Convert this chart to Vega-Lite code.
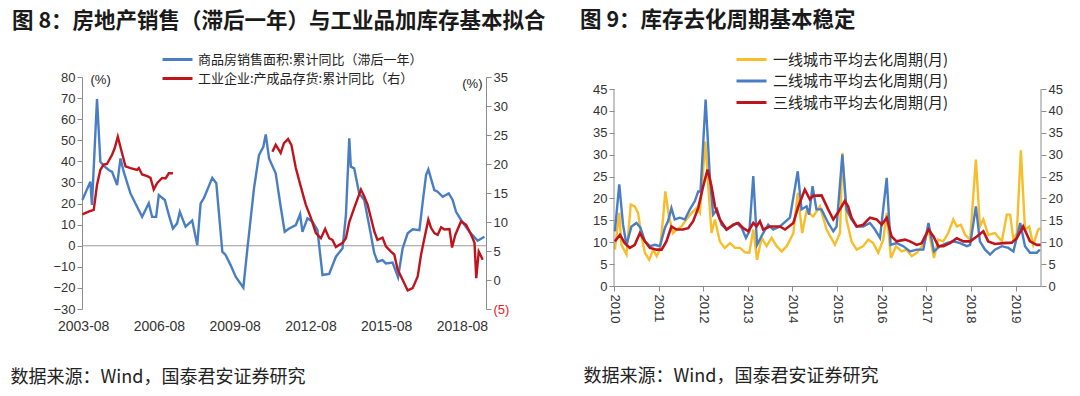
{
  "$schema": "https://vega.github.io/schema/vega-lite/v6.json",
  "background": "white",
  "padding": {"left": 10, "top": 9, "right": 5, "bottom": 5},
  "bounds": "flush",
  "spacing": 128,
  "datasets": {
    "sales": [
      {"d":"2003-07-20","v":21.7},{"d":"2003-11-13","v":30.4},{"d":"2003-12-06","v":19.3},{"d":"2004-02-17","v":69.6},
      {"d":"2004-04-06","v":39.8},{"d":"2004-05-23","v":38},{"d":"2004-08-05","v":35.9},{"d":"2004-09-22","v":35},
      {"d":"2004-12-04","v":28.8},{"d":"2005-01-22","v":41.4},{"d":"2005-03-10","v":35},{"d":"2005-06-15","v":24.8},
      {"d":"2005-09-19","v":18.5},{"d":"2005-12-01","v":13.7},{"d":"2006-03-07","v":20.1},{"d":"2006-04-24","v":13.7},
      {"d":"2006-06-21","v":13.7},{"d":"2006-07-30","v":24},{"d":"2006-10-25","v":21.7},{"d":"2006-12-22","v":14.6},
      {"d":"2007-02-19","v":8.2},{"d":"2007-04-21","v":10.6},{"d":"2007-05-30","v":16.1},{"d":"2007-08-21","v":9.0},
      {"d":"2007-11-25","v":11.9},{"d":"2008-02-06","v":0.3},{"d":"2008-03-26","v":20.1},{"d":"2008-05-12","v":22.5},
      {"d":"2008-09-10","v":32.2},{"d":"2008-11-08","v":29.6},{"d":"2009-02-03","v":-2.8},{"d":"2009-03-22","v":-4.4},
      {"d":"2009-06-03","v":-9.2},{"d":"2009-08-15","v":-14.7},{"d":"2009-12-04","v":-19.9},{"d":"2010-02-01","v":-1.2},
      {"d":"2010-05-07","v":27.2},{"d":"2010-07-18","v":43},{"d":"2010-09-19","v":46.9},{"d":"2010-10-24","v":52.8},
      {"d":"2010-12-11","v":41.4},{"d":"2011-03-17","v":34.3},{"d":"2011-05-28","v":18.5},{"d":"2011-07-25","v":6.6},
      {"d":"2011-09-27","v":8.2},{"d":"2012-01-02","v":9.8},{"d":"2012-03-04","v":14.9},{"d":"2012-04-07","v":6.6},
      {"d":"2012-06-18","v":13},{"d":"2012-08-30","v":11.4},{"d":"2012-11-10","v":7.4},{"d":"2013-01-22","v":-13.9},
      {"d":"2013-04-28","v":-13.4},{"d":"2013-08-04","v":-5.2},{"d":"2013-11-08","v":-1.2},{"d":"2013-12-27","v":14.6},
      {"d":"2014-02-13","v":50.9},{"d":"2014-03-08","v":37.5},{"d":"2014-04-25","v":36.7},{"d":"2014-07-07","v":24.8},
      {"d":"2014-09-18","v":21.7},{"d":"2014-12-01","v":9.0},{"d":"2015-02-10","v":-3.5},{"d":"2015-03-28","v":-7.6},
      {"d":"2015-06-09","v":-6.8},{"d":"2015-07-28","v":-8.4},{"d":"2015-11-02","v":-8.0},{"d":"2016-01-20","v":-15},
      {"d":"2016-03-26","v":-1.2},{"d":"2016-06-07","v":5.9},{"d":"2016-08-18","v":7.8},{"d":"2016-11-24","v":7.4},
      {"d":"2017-01-11","v":20.9},{"d":"2017-02-28","v":33.5},{"d":"2017-04-02","v":36.2},{"d":"2017-06-28","v":26.4},
      {"d":"2017-08-15","v":25.6},{"d":"2017-10-27","v":23.2},{"d":"2018-01-22","v":24.8},{"d":"2018-03-19","v":21.7},
      {"d":"2018-05-08","v":16.1},{"d":"2018-07-19","v":12.2},{"d":"2018-11-17","v":6.6},{"d":"2019-03-16","v":2.4},
      {"d":"2019-06-22","v":4.3}
    ],
    "inv": [
      {"d":"2003-07-20","v":11.3,"g":1},{"d":"2003-10-19","v":11.8,"g":1},{"d":"2004-01-01","v":12.1,"g":1},{"d":"2004-02-17","v":16.4,"g":1},
      {"d":"2004-04-06","v":19.0,"g":1},{"d":"2004-05-23","v":19.9,"g":1},{"d":"2004-07-10","v":20.0,"g":1},{"d":"2004-09-22","v":21.6,"g":1},
      {"d":"2004-11-01","v":22.8,"g":1},{"d":"2004-12-14","v":24.7,"g":1},{"d":"2005-02-06","v":22.2,"g":1},{"d":"2005-04-04","v":19.6,"g":1},
      {"d":"2005-06-15","v":19.3,"g":1},{"d":"2005-09-19","v":19.0,"g":1},{"d":"2005-10-14","v":19.3,"g":1},{"d":"2005-12-01","v":18.2,"g":1},
      {"d":"2006-02-12","v":17.9,"g":1},{"d":"2006-04-01","v":17.6,"g":1},{"d":"2006-05-18","v":15.6,"g":1},{"d":"2006-07-05","v":16.7,"g":1},
      {"d":"2006-09-16","v":17.6,"g":1},{"d":"2006-11-05","v":17.5,"g":1},{"d":"2006-12-22","v":18.4,"g":1},{"d":"2007-02-19","v":18.4,"g":1},
      {"d":"2011-01-28","v":22.1,"g":2},{"d":"2011-03-17","v":23.3,"g":2},{"d":"2011-05-28","v":21.9,"g":2},{"d":"2011-07-15","v":23.6,"g":2},
      {"d":"2011-09-12","v":24.3,"g":2},{"d":"2011-10-30","v":23.3,"g":2},{"d":"2012-01-02","v":19.3,"g":2},{"d":"2012-03-14","v":16.1,"g":2},
      {"d":"2012-05-25","v":13.0,"g":2},{"d":"2012-08-07","v":10.7,"g":2},{"d":"2012-10-18","v":8.1,"g":2},{"d":"2012-12-30","v":7.2,"g":2},
      {"d":"2013-03-01","v":8.8,"g":2},{"d":"2013-04-28","v":7.2,"g":2},{"d":"2013-06-15","v":6.9,"g":2},{"d":"2013-08-04","v":5.7,"g":2},
      {"d":"2013-11-08","v":6.4,"g":2},{"d":"2013-12-27","v":7.2,"g":2},{"d":"2014-02-13","v":10.0,"g":2},{"d":"2014-04-25","v":12.4,"g":2},
      {"d":"2014-08-01","v":15.6,"g":2},{"d":"2014-09-18","v":14.4,"g":2},{"d":"2014-11-05","v":13.0,"g":2},{"d":"2014-12-24","v":10.7,"g":2},
      {"d":"2015-02-10","v":8.4,"g":2},{"d":"2015-03-28","v":6.9,"g":2},{"d":"2015-06-09","v":7.3,"g":2},{"d":"2015-07-28","v":5.8,"g":2},
      {"d":"2015-10-09","v":4.9,"g":2},{"d":"2015-11-26","v":4.4,"g":2},{"d":"2016-01-14","v":1.8,"g":2},{"d":"2016-03-26","v":0.05,"g":2},
      {"d":"2016-06-07","v":-1.8,"g":2},{"d":"2016-08-18","v":-1.4,"g":2},{"d":"2016-10-30","v":0.6,"g":2},{"d":"2016-12-18","v":4.4,"g":2},
      {"d":"2017-02-04","v":7.2,"g":2},{"d":"2017-04-02","v":10.4,"g":2},{"d":"2017-05-11","v":9.0,"g":2},{"d":"2017-06-28","v":8.1,"g":2},
      {"d":"2017-08-15","v":7.8,"g":2},{"d":"2017-10-04","v":9.1,"g":2},{"d":"2017-11-21","v":8.7,"g":2},{"d":"2018-02-02","v":8.8,"g":2},
      {"d":"2018-03-11","v":5.6,"g":2},{"d":"2018-04-28","v":7.8,"g":2},{"d":"2018-07-19","v":10.1,"g":2},{"d":"2018-10-01","v":9.5,"g":2},
      {"d":"2018-12-12","v":7.8,"g":2},{"d":"2019-01-30","v":6.4,"g":2},{"d":"2019-02-24","v":0.3,"g":2},{"d":"2019-04-01","v":4.9,"g":2},
      {"d":"2019-05-05","v":4.1,"g":2},{"d":"2019-05-28","v":3.5,"g":2}
    ],
    "t1": [
      {"d":"2010-01-08","v":8.3},{"d":"2010-02-13","v":16.7},{"d":"2010-03-03","v":9.4},{"d":"2010-04-13","v":7.2},
      {"d":"2010-05-18","v":18.6},{"d":"2010-06-20","v":18.2},{"d":"2010-07-17","v":16.7},{"d":"2010-08-14","v":11.3},
      {"d":"2010-09-11","v":7.6},{"d":"2010-10-16","v":6.0},{"d":"2010-11-18","v":8.3},{"d":"2010-12-16","v":6.8},
      {"d":"2011-01-12","v":8.3},{"d":"2011-02-08","v":15.9},{"d":"2011-02-25","v":21.6},{"d":"2011-03-27","v":15.9},
      {"d":"2011-04-29","v":12.1},{"d":"2011-05-27","v":12.9},{"d":"2011-07-07","v":13.6},{"d":"2011-08-17","v":15.2},
      {"d":"2011-09-28","v":16.7},{"d":"2011-11-08","v":17.8},{"d":"2011-12-05","v":16.7},{"d":"2012-01-18","v":33},
      {"d":"2012-03-09","v":12.1},{"d":"2012-04-06","v":15.2},{"d":"2012-05-16","v":10.2},{"d":"2012-06-26","v":8.7},
      {"d":"2012-08-07","v":9.8},{"d":"2012-09-17","v":8.7},{"d":"2012-10-28","v":8.7},{"d":"2012-12-08","v":7.7},
      {"d":"2013-01-13","v":7.6},{"d":"2013-02-14","v":12.9},{"d":"2013-03-17","v":6.0},{"d":"2013-04-23","v":11.0},
      {"d":"2013-06-03","v":9.1},{"d":"2013-07-14","v":11.0},{"d":"2013-08-24","v":9.1},{"d":"2013-10-04","v":7.9},
      {"d":"2013-11-15","v":9.1},{"d":"2014-01-08","v":12.1},{"d":"2014-02-13","v":21.3},{"d":"2014-03-21","v":12.1},
      {"d":"2014-04-26","v":17.1},{"d":"2014-06-19","v":15.9},{"d":"2014-08-13","v":18.2},{"d":"2014-10-07","v":12.9},
      {"d":"2014-12-14","v":9.4},{"d":"2015-01-25","v":12.1},{"d":"2015-02-13","v":30.4},{"d":"2015-03-19","v":15.2},
      {"d":"2015-04-29","v":10.2},{"d":"2015-06-10","v":8.3},{"d":"2015-08-03","v":9.1},{"d":"2015-09-13","v":10.6},
      {"d":"2015-10-24","v":9.8},{"d":"2015-12-04","v":7.6},{"d":"2016-01-14","v":10.6},{"d":"2016-02-11","v":16.7},
      {"d":"2016-03-17","v":6.4},{"d":"2016-04-27","v":9.1},{"d":"2016-06-13","v":7.9},{"d":"2016-07-23","v":8.3},
      {"d":"2016-09-03","v":6.8},{"d":"2016-10-14","v":7.6},{"d":"2016-12-07","v":9.4},{"d":"2017-01-18","v":12.9},
      {"d":"2017-03-04","v":6.4},{"d":"2017-04-08","v":10.6},{"d":"2017-05-19","v":10.2},{"d":"2017-06-29","v":12.1},
      {"d":"2017-08-09","v":15.2},{"d":"2017-09-07","v":13.6},{"d":"2017-10-10","v":14.0},{"d":"2017-11-14","v":11.7},
      {"d":"2017-12-25","v":10.6},{"d":"2018-02-10","v":28.9},{"d":"2018-03-15","v":13.6},{"d":"2018-04-12","v":15.2},
      {"d":"2018-05-22","v":11.7},{"d":"2018-07-16","v":12.1},{"d":"2018-09-10","v":10.2},{"d":"2018-10-21","v":16.3},
      {"d":"2018-11-17","v":16.3},{"d":"2018-12-14","v":10.6},{"d":"2019-01-11","v":12.1},{"d":"2019-02-13","v":31.0},
      {"d":"2019-03-19","v":12.9},{"d":"2019-04-23","v":13.6},{"d":"2019-05-25","v":9.4},{"d":"2019-07-05","v":12.9},
      {"d":"2019-07-25","v":13.2}
    ],
    "t2": [
      {"d":"2010-01-08","v":12.5},{"d":"2010-02-13","v":23.2},{"d":"2010-03-16","v":14.0},{"d":"2010-04-13","v":9.4},
      {"d":"2010-05-24","v":13.6},{"d":"2010-07-04","v":14.4},{"d":"2010-08-06","v":13.3},{"d":"2010-09-11","v":10.2},
      {"d":"2010-10-22","v":9.1},{"d":"2010-12-02","v":9.4},{"d":"2011-01-12","v":9.1},{"d":"2011-02-22","v":13.3},
      {"d":"2011-03-19","v":14.8},{"d":"2011-04-16","v":17.8},{"d":"2011-05-13","v":15.2},{"d":"2011-06-23","v":15.6},
      {"d":"2011-08-04","v":15.2},{"d":"2011-09-14","v":17.5},{"d":"2011-10-25","v":19.4},{"d":"2011-11-21","v":21.6},
      {"d":"2011-12-10","v":21.6},{"d":"2012-01-21","v":42.6},{"d":"2012-02-25","v":24.7},{"d":"2012-03-22","v":16.3},
      {"d":"2012-04-24","v":17.5},{"d":"2012-05-30","v":14.0},{"d":"2012-07-10","v":12.9},{"d":"2012-08-20","v":13.6},
      {"d":"2012-10-01","v":14.4},{"d":"2012-11-11","v":13.3},{"d":"2012-12-16","v":11.0},{"d":"2013-01-13","v":12.5},
      {"d":"2013-02-14","v":25.1},{"d":"2013-03-17","v":9.4},{"d":"2013-05-06","v":12.1},{"d":"2013-06-16","v":14.0},
      {"d":"2013-07-27","v":12.9},{"d":"2013-09-20","v":13.6},{"d":"2013-12-11","v":15.6},{"d":"2014-02-13","v":26.2},
      {"d":"2014-03-16","v":17.5},{"d":"2014-04-26","v":18.2},{"d":"2014-05-17","v":16.3},{"d":"2014-06-14","v":22.8},
      {"d":"2014-07-16","v":17.5},{"d":"2014-08-27","v":17.5},{"d":"2014-10-20","v":14.4},{"d":"2014-12-01","v":12.5},
      {"d":"2014-12-28","v":13.6},{"d":"2015-02-13","v":30.0},{"d":"2015-03-19","v":17.5},{"d":"2015-04-29","v":15.2},
      {"d":"2015-06-10","v":13.6},{"d":"2015-08-03","v":13.6},{"d":"2015-09-27","v":14.4},{"d":"2015-11-07","v":12.9},
      {"d":"2015-12-18","v":11.0},{"d":"2016-02-11","v":24.7},{"d":"2016-03-14","v":9.4},{"d":"2016-05-02","v":9.8},
      {"d":"2016-06-26","v":9.1},{"d":"2016-08-20","v":7.9},{"d":"2016-10-14","v":8.3},{"d":"2016-12-07","v":8.3},
      {"d":"2017-01-18","v":14.4},{"d":"2017-03-04","v":7.9},{"d":"2017-04-22","v":9.1},{"d":"2017-06-16","v":9.8},
      {"d":"2017-08-09","v":10.2},{"d":"2017-10-04","v":9.8},{"d":"2017-11-28","v":9.1},{"d":"2017-12-25","v":9.4},
      {"d":"2018-02-10","v":18.2},{"d":"2018-03-15","v":10.2},{"d":"2018-04-26","v":8.3},{"d":"2018-06-06","v":7.2},
      {"d":"2018-07-16","v":8.3},{"d":"2018-09-10","v":9.1},{"d":"2018-11-03","v":8.7},{"d":"2018-12-14","v":7.9},
      {"d":"2019-02-08","v":14.4},{"d":"2019-03-19","v":9.1},{"d":"2019-04-29","v":7.6},{"d":"2019-06-23","v":7.6},
      {"d":"2019-07-19","v":8.3}
    ],
    "t3": [
      {"d":"2010-01-08","v":10.2},{"d":"2010-02-19","v":11.7},{"d":"2010-03-30","v":9.8},{"d":"2010-05-10","v":8.7},
      {"d":"2010-06-20","v":9.4},{"d":"2010-08-01","v":12.1},{"d":"2010-09-11","v":10.2},{"d":"2010-10-22","v":8.7},
      {"d":"2010-12-16","v":8.3},{"d":"2011-01-26","v":8.3},{"d":"2011-03-06","v":10.2},{"d":"2011-04-16","v":13.6},
      {"d":"2011-05-27","v":12.9},{"d":"2011-07-20","v":12.9},{"d":"2011-08-31","v":13.2},{"d":"2011-10-11","v":14.8},
      {"d":"2011-11-21","v":17.8},{"d":"2012-01-01","v":22.8},{"d":"2012-02-06","v":26.6},{"d":"2012-03-09","v":22.8},
      {"d":"2012-04-06","v":18.2},{"d":"2012-05-16","v":15.2},{"d":"2012-07-10","v":12.9},{"d":"2012-09-03","v":14.0},
      {"d":"2012-10-14","v":14.4},{"d":"2012-11-24","v":13.2},{"d":"2013-01-05","v":12.5},{"d":"2013-02-14","v":14.4},
      {"d":"2013-03-12","v":13.6},{"d":"2013-04-09","v":14.8},{"d":"2013-05-06","v":12.9},{"d":"2013-07-01","v":13.6},
      {"d":"2013-09-20","v":13.6},{"d":"2013-11-01","v":12.9},{"d":"2014-01-08","v":14.4},{"d":"2014-02-18","v":18.2},
      {"d":"2014-04-12","v":22.0},{"d":"2014-05-23","v":19.8},{"d":"2014-06-19","v":20.6},{"d":"2014-08-27","v":20.7},
      {"d":"2014-10-20","v":17.5},{"d":"2014-12-01","v":15.2},{"d":"2015-01-11","v":16.9},{"d":"2015-03-05","v":19.4},
      {"d":"2015-04-01","v":18.2},{"d":"2015-04-29","v":15.6},{"d":"2015-06-10","v":13.6},{"d":"2015-08-03","v":14.0},
      {"d":"2015-09-27","v":15.6},{"d":"2015-11-21","v":15.2},{"d":"2016-01-01","v":14.0},{"d":"2016-02-11","v":15.6},
      {"d":"2016-03-22","v":11.3},{"d":"2016-05-02","v":10.2},{"d":"2016-07-10","v":10.6},{"d":"2016-08-20","v":10.2},
      {"d":"2016-10-14","v":9.4},{"d":"2016-11-24","v":9.8},{"d":"2017-01-18","v":12.9},{"d":"2017-02-28","v":11.3},
      {"d":"2017-04-08","v":9.1},{"d":"2017-05-19","v":9.1},{"d":"2017-07-13","v":9.8},{"d":"2017-09-07","v":10.9},
      {"d":"2017-10-31","v":10.2},{"d":"2017-12-25","v":10.2},{"d":"2018-02-18","v":11.3},{"d":"2018-04-12","v":12.5},
      {"d":"2018-05-22","v":10.2},{"d":"2018-07-16","v":9.6},{"d":"2018-09-23","v":9.8},{"d":"2018-12-01","v":9.9},
      {"d":"2019-01-11","v":10.9},{"d":"2019-03-04","v":13.6},{"d":"2019-04-29","v":10.2},{"d":"2019-06-23","v":9.4},
      {"d":"2019-07-25","v":9.4}
    ]
  },
  "resolve": {"scale": {"color": "independent", "x": "independent", "y": "independent"}, "legend": {"color": "independent"}},
  "hconcat": [
    {
      "width": 404,
      "height": 232,
      "title": {"text": "图 8：房地产销售（滞后一年）与工业品加库存基本拟合", "anchor": "start", "frame": "group", "dx": -70, "offset": 21},
      "layer": [
        {
          "layer": [
            {
              "data": {"values": [{}]},
              "mark": {"type": "rule", "color": "#9a9a9a", "strokeWidth": 1.2},
              "encoding": {"y": {"datum": 0, "type": "quantitative", "scale": {"domain": [-30, 80], "nice": false},
                "axis": {"values": [-30, -20, -10, 0, 10, 20, 30, 40, 50, 60, 70, 80], "labelOverlap": false, "labelFlush": false, "title": "(%)", "titleAngle": 0, "titleAlign": "left", "titleBaseline": "middle", "titleX": 8, "titleY": 2, "titleFontSize": 13, "titleFontWeight": "normal", "titleFont": "Liberation Sans"}}}
            },
            {
              "data": {"name": "sales"},
              "mark": {"type": "line", "strokeWidth": 2.4},
              "encoding": {
                "x": {"field": "d", "type": "temporal",
                  "scale": {"type": "utc", "domain": [{"year": 2003, "month": 7, "date": 15, "utc": true}, {"year": 2019, "month": 7, "date": 15, "utc": true}]},
                  "axis": {"values": [{"year": 2003, "month": 8, "date": 1, "utc": true}, {"year": 2006, "month": 8, "date": 1, "utc": true}, {"year": 2009, "month": 8, "date": 1, "utc": true}, {"year": 2012, "month": 8, "date": 1, "utc": true}, {"year": 2015, "month": 8, "date": 1, "utc": true}, {"year": 2018, "month": 8, "date": 1, "utc": true}],
                    "labelExpr": "utcFormat(datum.value, '%Y-%m')", "domain": false, "ticks": false, "labelPadding": 10, "labelFontSize": 14, "labelOverlap": false,
                    "title": "数据来源：Wind，国泰君安证券研究", "titleAnchor": "start", "titleAlign": "left", "titleBaseline": "middle", "titleX": -72, "titleY": 68}},
                "y": {"field": "v", "type": "quantitative", "scale": {"domain": [-30, 80], "nice": false},
                  "axis": {"values": [-30, -20, -10, 0, 10, 20, 30, 40, 50, 60, 70, 80], "labelOverlap": false, "labelFlush": false, "title": "(%)", "titleAngle": 0, "titleAlign": "left", "titleBaseline": "middle", "titleX": 8, "titleY": 2, "titleFontSize": 13, "titleFontWeight": "normal", "titleFont": "Liberation Sans"}},
                "color": {"datum": "商品房销售面积:累计同比（滞后一年）", "type": "nominal",
                  "scale": {"domain": ["商品房销售面积:累计同比（滞后一年）", "工业企业:产成品存货:累计同比（右）"], "range": ["#4a7ec4", "#c0141c"]},
                  "legend": {"orient": "none", "legendX": 89, "legendY": -24, "title": null, "symbolType": "M-3,0H3", "symbolSize": 100, "symbolStrokeWidth": 3, "labelOffset": 14, "labelFontSize": 13, "labelLimit": 0, "rowPadding": 5, "labelFont": "Noto Sans CJK SC", "labelColor": "#222"}}
              }
            }
          ]
        },
        {
          "data": {"name": "inv"},
          "mark": {"type": "line", "strokeWidth": 2.4},
          "encoding": {
            "x": {"field": "d", "type": "temporal",
              "scale": {"type": "utc", "domain": [{"year": 2003, "month": 7, "date": 15, "utc": true}, {"year": 2019, "month": 7, "date": 15, "utc": true}]},
              "axis": {"values": [{"year": 2003, "month": 8, "date": 1, "utc": true}, {"year": 2006, "month": 8, "date": 1, "utc": true}, {"year": 2009, "month": 8, "date": 1, "utc": true}, {"year": 2012, "month": 8, "date": 1, "utc": true}, {"year": 2015, "month": 8, "date": 1, "utc": true}, {"year": 2018, "month": 8, "date": 1, "utc": true}],
                "labelExpr": "utcFormat(datum.value, '%Y-%m')", "domain": false, "ticks": false, "labelPadding": 10, "labelFontSize": 14, "labelOverlap": false,
                "title": "数据来源：Wind，国泰君安证券研究", "titleAnchor": "start", "titleAlign": "left", "titleBaseline": "middle", "titleX": -72, "titleY": 68}},
            "y": {"field": "v", "type": "quantitative", "scale": {"domain": [-5, 35], "nice": false},
              "axis": {"orient": "right", "values": [-5, 0, 5, 10, 15, 20, 25, 30, 35], "labelOverlap": false, "labelFlush": false, "labelExpr": "datum.value < 0 ? '(' + abs(datum.value) + ')' : datum.label",
                "labelColor": {"condition": {"test": "datum.value < 0", "value": "#e8202a"}, "value": "#333333"},
                "title": "(%)", "titleAngle": 0, "titleAlign": "right", "titleBaseline": "middle", "titleX": -4, "titleY": 6, "titleFontSize": 13, "titleFontWeight": "normal", "titleFont": "Liberation Sans"}},
            "detail": {"field": "g"},
            "color": {"datum": "工业企业:产成品存货:累计同比（右）", "type": "nominal",
              "scale": {"domain": ["商品房销售面积:累计同比（滞后一年）", "工业企业:产成品存货:累计同比（右）"], "range": ["#4a7ec4", "#c0141c"]}}
          }
        }
      ],
      "resolve": {"scale": {"y": "independent"}}
    },
    {
      "width": 427,
      "height": 209,
      "title": {"text": "图 9：库存去化周期基本稳定", "anchor": "start", "frame": "group", "dx": -34, "offset": 21},
      "layer": [
        {
          "layer": [
            {
              "data": {"name": "t1"},
              "mark": {"type": "line", "strokeWidth": 2.4},
              "encoding": {
                "x": {"field": "d", "type": "temporal",
                  "scale": {"type": "utc", "domain": [{"year": 2010, "month": 1, "date": 1, "utc": true}, {"year": 2019, "month": 7, "date": 28, "utc": true}]},
                  "axis": {"values": [{"year": 2010, "month": 1, "date": 1, "utc": true}, {"year": 2011, "month": 1, "date": 1, "utc": true}, {"year": 2012, "month": 1, "date": 1, "utc": true}, {"year": 2013, "month": 1, "date": 1, "utc": true}, {"year": 2014, "month": 1, "date": 1, "utc": true}, {"year": 2015, "month": 1, "date": 1, "utc": true}, {"year": 2016, "month": 1, "date": 1, "utc": true}, {"year": 2017, "month": 1, "date": 1, "utc": true}, {"year": 2018, "month": 1, "date": 1, "utc": true}, {"year": 2019, "month": 1, "date": 1, "utc": true}],
                    "labelExpr": "utcFormat(datum.value, '%Y')", "labelAngle": 90, "labelAlign": "left", "labelBaseline": "middle", "tickSize": 5, "labelPadding": 3, "labelFontSize": 13, "labelOverlap": false,
                    "title": "数据来源：Wind，国泰君安证券研究", "titleAnchor": "start", "titleAlign": "left", "titleBaseline": "middle", "titleX": -31, "titleY": 90}},
                "y": {"field": "v", "type": "quantitative", "scale": {"domain": [0, 47.75], "nice": false, "zero": false},
                  "axis": {"values": [0, 5, 10, 15, 20, 25, 30, 35, 40, 45], "labelOverlap": false, "labelFlush": false, "domain": false, "title": null}},
                "color": {"datum": "一线城市平均去化周期(月)", "type": "nominal",
                  "scale": {"domain": ["一线城市平均去化周期(月)", "二线城市平均去化周期(月)", "三线城市平均去化周期(月)"], "range": ["#f7bd2a", "#4a7ec4", "#c0141c"]},
                  "legend": {"orient": "none", "legendX": 130, "legendY": -25, "title": null, "symbolType": "M-3,0H3", "symbolSize": 100, "symbolStrokeWidth": 3, "labelOffset": 14, "labelFontSize": 15, "labelLimit": 0, "rowPadding": 5.5, "labelFont": "Noto Sans CJK SC", "labelColor": "#222"}}
              }
            },
            {
              "data": {"values": [{}]},
              "mark": {"type": "rule", "color": "#8c8c8c", "strokeWidth": 1},
              "encoding": {
                "x": {"datum": {"year": 2010, "month": 1, "date": 1, "utc": true}, "type": "temporal"},
                "y": {"datum": 0, "type": "quantitative", "scale": {"domain": [0, 47.75], "nice": false, "zero": false},
                  "axis": {"values": [0, 5, 10, 15, 20, 25, 30, 35, 40, 45], "labelOverlap": false, "labelFlush": false, "domain": false, "title": null}},
                "y2": {"datum": 45}
              }
            },
            {
              "data": {"values": [{}]},
              "mark": {"type": "rule", "color": "#8c8c8c", "strokeWidth": 1},
              "encoding": {
                "x": {"datum": {"year": 2019, "month": 7, "date": 28, "utc": true}, "type": "temporal"},
                "y": {"datum": 0, "type": "quantitative", "scale": {"domain": [0, 47.75], "nice": false, "zero": false},
                  "axis": {"values": [0, 5, 10, 15, 20, 25, 30, 35, 40, 45], "labelOverlap": false, "labelFlush": false, "domain": false, "title": null}},
                "y2": {"datum": 45}
              }
            }
          ]
        },
        {
          "layer": [
            {
              "data": {"name": "t2"},
              "mark": {"type": "line", "strokeWidth": 2.4},
              "encoding": {
                "x": {"field": "d", "type": "temporal",
                  "scale": {"type": "utc", "domain": [{"year": 2010, "month": 1, "date": 1, "utc": true}, {"year": 2019, "month": 7, "date": 28, "utc": true}]},
                  "axis": {"values": [{"year": 2010, "month": 1, "date": 1, "utc": true}, {"year": 2011, "month": 1, "date": 1, "utc": true}, {"year": 2012, "month": 1, "date": 1, "utc": true}, {"year": 2013, "month": 1, "date": 1, "utc": true}, {"year": 2014, "month": 1, "date": 1, "utc": true}, {"year": 2015, "month": 1, "date": 1, "utc": true}, {"year": 2016, "month": 1, "date": 1, "utc": true}, {"year": 2017, "month": 1, "date": 1, "utc": true}, {"year": 2018, "month": 1, "date": 1, "utc": true}, {"year": 2019, "month": 1, "date": 1, "utc": true}],
                    "labelExpr": "utcFormat(datum.value, '%Y')", "labelAngle": 90, "labelAlign": "left", "labelBaseline": "middle", "tickSize": 5, "labelPadding": 3, "labelFontSize": 13, "labelOverlap": false,
                    "title": "数据来源：Wind，国泰君安证券研究", "titleAnchor": "start", "titleAlign": "left", "titleBaseline": "middle", "titleX": -31, "titleY": 90}},
                "y": {"field": "v", "type": "quantitative", "scale": {"domain": [0, 47.75], "nice": false, "zero": false},
                  "axis": {"orient": "right", "values": [0, 5, 10, 15, 20, 25, 30, 35, 40, 45], "labelOverlap": false, "labelFlush": false, "domain": false, "title": null}},
                "color": {"datum": "二线城市平均去化周期(月)", "type": "nominal",
                  "scale": {"domain": ["一线城市平均去化周期(月)", "二线城市平均去化周期(月)", "三线城市平均去化周期(月)"], "range": ["#f7bd2a", "#4a7ec4", "#c0141c"]}}
              }
            },
            {
              "data": {"name": "t3"},
              "mark": {"type": "line", "strokeWidth": 2.6},
              "encoding": {
                "x": {"field": "d", "type": "temporal",
                  "scale": {"type": "utc", "domain": [{"year": 2010, "month": 1, "date": 1, "utc": true}, {"year": 2019, "month": 7, "date": 28, "utc": true}]},
                  "axis": {"values": [{"year": 2010, "month": 1, "date": 1, "utc": true}, {"year": 2011, "month": 1, "date": 1, "utc": true}, {"year": 2012, "month": 1, "date": 1, "utc": true}, {"year": 2013, "month": 1, "date": 1, "utc": true}, {"year": 2014, "month": 1, "date": 1, "utc": true}, {"year": 2015, "month": 1, "date": 1, "utc": true}, {"year": 2016, "month": 1, "date": 1, "utc": true}, {"year": 2017, "month": 1, "date": 1, "utc": true}, {"year": 2018, "month": 1, "date": 1, "utc": true}, {"year": 2019, "month": 1, "date": 1, "utc": true}],
                    "labelExpr": "utcFormat(datum.value, '%Y')", "labelAngle": 90, "labelAlign": "left", "labelBaseline": "middle", "tickSize": 5, "labelPadding": 3, "labelFontSize": 13, "labelOverlap": false,
                    "title": "数据来源：Wind，国泰君安证券研究", "titleAnchor": "start", "titleAlign": "left", "titleBaseline": "middle", "titleX": -31, "titleY": 90}},
                "y": {"field": "v", "type": "quantitative", "scale": {"domain": [0, 47.75], "nice": false, "zero": false},
                  "axis": {"orient": "right", "values": [0, 5, 10, 15, 20, 25, 30, 35, 40, 45], "labelOverlap": false, "labelFlush": false, "domain": false, "title": null}},
                "color": {"datum": "三线城市平均去化周期(月)", "type": "nominal",
                  "scale": {"domain": ["一线城市平均去化周期(月)", "二线城市平均去化周期(月)", "三线城市平均去化周期(月)"], "range": ["#f7bd2a", "#4a7ec4", "#c0141c"]}}
              }
            }
          ]
        }
      ],
      "resolve": {"scale": {"y": "independent"}}
    }
  ],
  "config": {
    "view": {"stroke": null},
    "font": "Liberation Sans",
    "title": {"font": "Noto Sans CJK SC", "fontSize": 21.5, "fontWeight": "bold", "color": "#1a1a1a"},
    "axis": {"grid": false, "labelFont": "Liberation Sans", "labelFontSize": 13, "labelColor": "#333333", "domainColor": "#8c8c8c", "tickColor": "#8c8c8c", "tickSize": 5,
      "titleFont": "Noto Sans CJK SC", "titleFontSize": 18, "titleFontWeight": "normal", "titleColor": "#222222"},
    "legend": {"symbolFillColor": "transparent"}
  }
}
